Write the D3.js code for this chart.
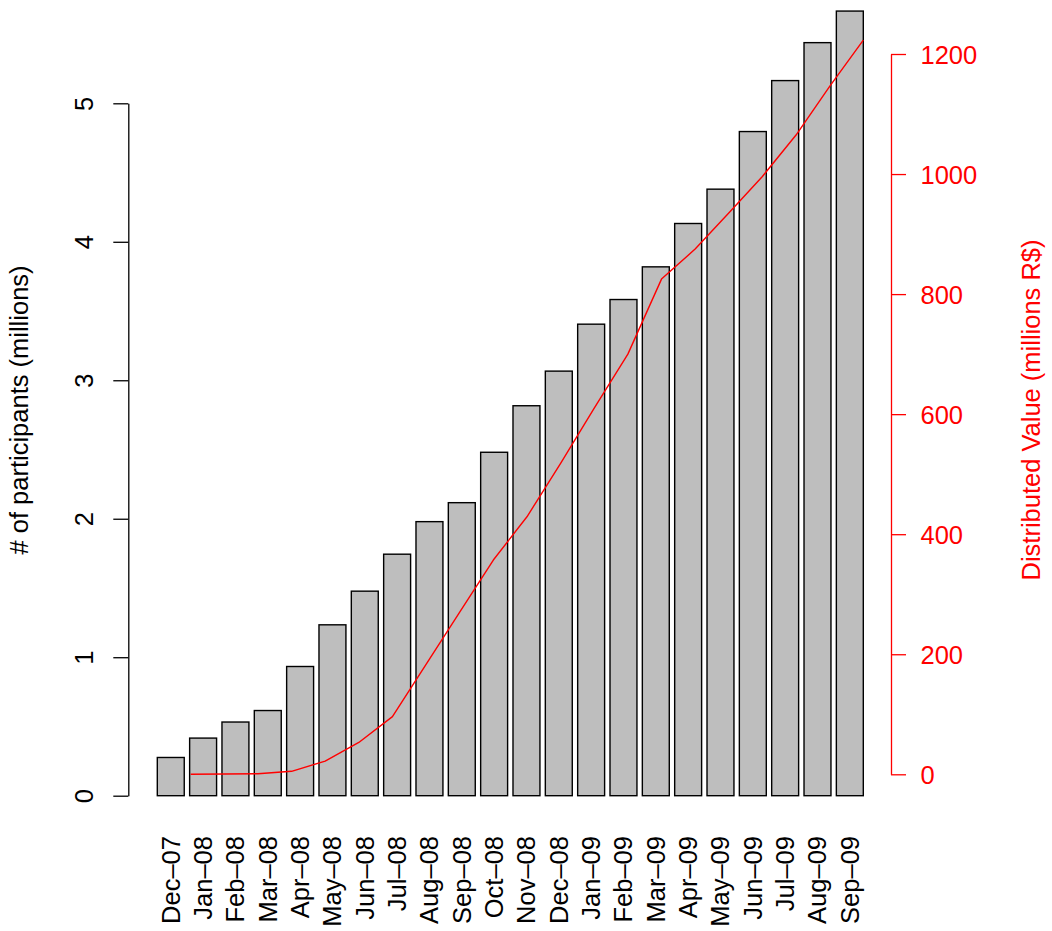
<!DOCTYPE html>
<html>
<head>
<meta charset="utf-8">
<script src="https://cdn.jsdelivr.net/npm/d3@7"></script>
<style>
  body { margin: 0; background: #fff; }
  text { font-family: "Liberation Sans", Arial, Helvetica, sans-serif; }
</style>
</head>
<body>
<svg id="chart" width="1052" height="931"></svg>
<script>
// ---- data ----
const months = ["Dec–07","Jan–08","Feb–08","Mar–08","Apr–08","May–08","Jun–08","Jul–08",
  "Aug–08","Sep–08","Oct–08","Nov–08","Dec–08","Jan–09","Feb–09","Mar–09","Apr–09",
  "May–09","Jun–09","Jul–09","Aug–09","Sep–09"];
const participants = [0.276,0.416,0.532,0.615,0.933,1.234,1.477,1.744,1.979,2.116,2.480,
  2.816,3.066,3.405,3.583,3.819,4.132,4.380,4.796,5.164,5.438,5.666];
const lineMonths = months.slice(1);
const distributed = [0,0.5,1,5,22,53,96,183,270,357,429,518,610,700,825,875,935,996,1065,1146,1223];
const leftTicks = [0,1,2,3,4,5];
const rightTicks = [0,200,400,600,800,1000,1200];
const leftTitle = "# of participants (millions)";
const rightTitle = "Distributed Value (millions R$)";

// ---- layout ----
const W = 1052, H = 931;
const FS = 25.5;
const svg = d3.select("#chart");
svg.append("rect").attr("width", W).attr("height", H).attr("fill", "#fff");

const x = d3.scaleBand().domain(months).range([157.3, 863.3])
  .paddingInner(0.2 / 1.2).paddingOuter(0);
const yL = d3.scaleLinear().domain([0, 5]).range([795.7, 103.3]);
const yR = d3.scaleLinear().domain([0, 1200]).range([774.3, 54]);
const xLine = d3.scalePoint().domain(lineMonths)
  .range([x(lineMonths[0]) + 1, x(lineMonths[lineMonths.length - 1]) + x.bandwidth()]);

// bars
svg.append("g").selectAll("rect").data(months).join("rect")
  .attr("x", d => x(d))
  .attr("y", (d, i) => yL(participants[i]))
  .attr("width", x.bandwidth())
  .attr("height", (d, i) => yL(0) - yL(participants[i]))
  .attr("fill", "#bebebe")
  .attr("stroke", "#000")
  .attr("stroke-width", 1.4);

// red line
const line = d3.line().x((d, i) => xLine(lineMonths[i])).y(d => yR(d));
svg.append("path").datum(distributed)
  .attr("d", line)
  .attr("fill", "none")
  .attr("stroke", "#ff0000")
  .attr("stroke-width", 1.4)
  .attr("stroke-linejoin", "round");

// left axis
const leftAxisX = 128.3;
const gL = svg.append("g").attr("transform", `translate(${leftAxisX},0)`)
  .call(d3.axisLeft(yL).tickValues(leftTicks).tickFormat(d3.format("d"))
    .tickSize(15).tickSizeOuter(0));
gL.select(".domain").attr("stroke", "#000").attr("stroke-width", 1.3);
gL.selectAll(".tick line").attr("stroke", "#000").attr("stroke-width", 1.3);
gL.selectAll(".tick text")
  .attr("x", null).attr("dy", null)
  .attr("transform", "translate(-35.3,0) rotate(-90)")
  .attr("text-anchor", "middle")
  .attr("fill", "#000")
  .style("font-size", FS + "px")
  .style("font-family", '"Liberation Sans", Arial, sans-serif');

// right axis
const rightAxisX = 891;
const gR = svg.append("g").attr("transform", `translate(${rightAxisX},0)`)
  .call(d3.axisRight(yR).tickValues(rightTicks).tickFormat(d3.format("d"))
    .tickSize(15).tickSizeOuter(0).tickPadding(14.5));
gR.select(".domain").attr("stroke", "#ff0000").attr("stroke-width", 1.3);
gR.selectAll(".tick line").attr("stroke", "#ff0000").attr("stroke-width", 1.3);
gR.selectAll(".tick text")
  .attr("dy", "0.36em")
  .attr("fill", "#ff0000")
  .style("font-size", FS + "px")
  .style("font-family", '"Liberation Sans", Arial, sans-serif');

// x labels
svg.append("g").selectAll("text").data(months).join("text")
  .attr("transform", d => `translate(${x(d) + x.bandwidth() / 2},836) rotate(-90)`)
  .attr("dy", "0.35em")
  .attr("text-anchor", "end")
  .attr("fill", "#000")
  .style("font-size", FS + "px")
  .text(d => d);

// titles
svg.append("text")
  .attr("transform", "translate(28,410) rotate(-90)")
  .attr("text-anchor", "middle")
  .attr("fill", "#000")
  .style("font-size", FS + "px")
  .text(leftTitle);

svg.append("text")
  .attr("transform", "translate(1040,410) rotate(-90)")
  .attr("text-anchor", "middle")
  .attr("fill", "#ff0000")
  .style("font-size", FS + "px")
  .text(rightTitle);
</script>
</body>
</html>
